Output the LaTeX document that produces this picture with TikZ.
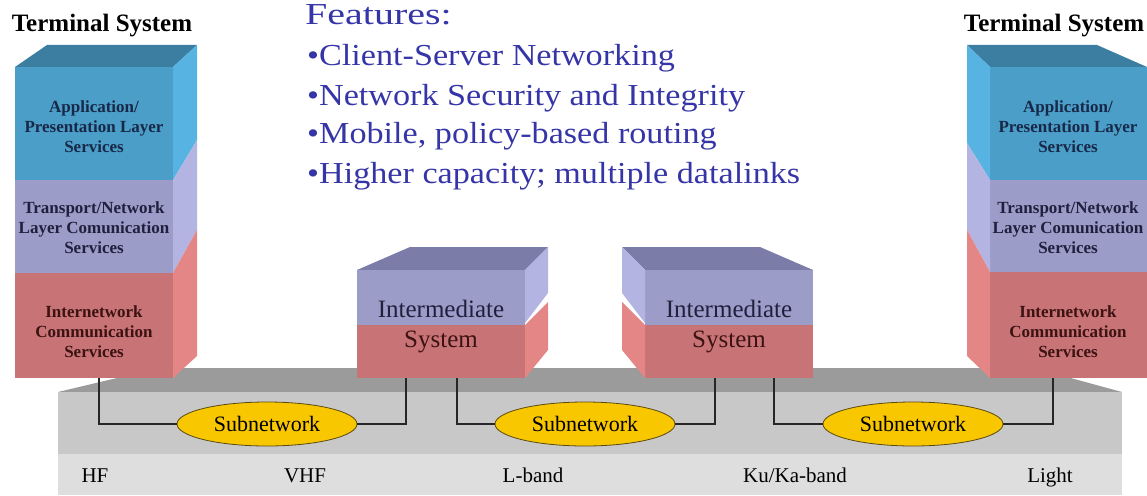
\documentclass[tikz,border=0pt]{standalone}
\usepackage{fontspec}
\setmainfont{Liberation Serif}
\newfontfamily\featfont[FakeStretch=1.12]{Liberation Serif}
\usepackage{graphicx}
\usetikzlibrary{shapes.geometric}

\definecolor{blueF}{HTML}{4B9EC8}
\definecolor{blueS}{HTML}{57B3E2}
\definecolor{blueT}{HTML}{3C7EA2}
\definecolor{lavF}{HTML}{9B9CC7}
\definecolor{lavS}{HTML}{B3B4E2}
\definecolor{lavT}{HTML}{7B7CA7}
\definecolor{redF}{HTML}{C87476}
\definecolor{redS}{HTML}{E48686}
\definecolor{platT}{HTML}{9B9B9B}
\definecolor{platF}{HTML}{C8C8C8}
\definecolor{bandC}{HTML}{DEDEDE}
\definecolor{subnetY}{HTML}{F8C700}
\definecolor{subnetD}{HTML}{5A4A10}
\definecolor{featblue}{HTML}{3535A8}
\definecolor{blueTx}{HTML}{182848}
\definecolor{lavTx}{HTML}{20203E}
\definecolor{redTx}{HTML}{3C1212}

\tikzset{
  layertext/.style={font=\bfseries\fontsize{17}{20}\selectfont, align=center, inner sep=0pt},
  systext/.style={anchor=base, font=\fontsize{25}{28}\selectfont, inner sep=0pt},
  bandtext/.style={anchor=base, font=\fontsize{21}{24}\selectfont, inner sep=0pt},
  featline/.style={anchor=base west, text=featblue, font=\featfont\fontsize{30.5}{36}\selectfont, inner sep=0pt},
  title/.style={anchor=base, font=\bfseries\fontsize{25}{28}\selectfont, inner sep=0pt},
  subnet/.style={ellipse, draw=subnetD, line width=0.8pt, fill=subnetY, minimum width=180pt, minimum height=44pt, inner sep=0pt, font=\fontsize{22}{24}\selectfont},
  wire/.style={line width=1.2pt, draw=black!85},
}

\begin{document}
\begin{tikzpicture}[x=1pt,y=-1pt]
	\useasboundingbox (0,0) rectangle (1147,495);
	
	% platform
	\fill[platT] (58,392) -- (159,368) -- (1034,368) -- (1122,392) -- cycle;
	\fill[platF] (58,392) rectangle (1122,454);
	\fill[bandC] (58,454) rectangle (1122,495);
	
	% left terminal system
	\fill[blueT] (15,67) -- (47,45) -- (197,45) -- (173,67) -- cycle;
	\fill[blueF] (15,67) rectangle (173,180);
	\fill[blueS] (173,67) -- (197,45) -- (197,140) -- (173,180) -- cycle;
	\fill[lavF] (15,180) rectangle (173,273);
	\fill[lavS] (173,180) -- (197,140) -- (197,230) -- (173,273) -- cycle;
	\fill[redF] (15,273) rectangle (173,378);
	\fill[redS] (173,273) -- (197,230) -- (197,356) -- (173,378) -- cycle;
	
	% right terminal system
	\fill[blueT] (990,67) -- (967,45) -- (1097,45) -- (1147,67) -- cycle;
	\fill[blueF] (990,67) rectangle (1147,180);
	\fill[blueS] (990,67) -- (967,45) -- (967,143) -- (990,180) -- cycle;
	\fill[lavF] (990,180) rectangle (1147,272);
	\fill[lavS] (990,180) -- (967,143) -- (967,230) -- (990,272) -- cycle;
	\fill[redF] (990,272) rectangle (1147,378);
	\fill[redS] (990,272) -- (967,230) -- (967,356) -- (990,378) -- cycle;
	
	% intermediate systems
	\fill[lavT] (357,270) -- (410,247) -- (548,247) -- (525,270) -- cycle;
	\fill[lavF] (357,270) rectangle (525,325);
	\fill[lavS] (525,270) -- (548,247) -- (548,293) -- (525,323) -- cycle;
	\fill[redF] (357,325) rectangle (525,378);
	\fill[redS] (525,325) -- (548,302) -- (548,350) -- (525,378) -- cycle;
	
	\fill[lavT] (645,270) -- (622,247) -- (760,247) -- (813,270) -- cycle;
	\fill[lavF] (645,270) rectangle (813,325);
	\fill[lavS] (645,270) -- (622,247) -- (622,293) -- (645,323) -- cycle;
	\fill[redF] (645,325) rectangle (813,378);
	\fill[redS] (645,325) -- (622,302) -- (622,350) -- (645,378) -- cycle;
	
	% titles and layer texts
	\node[title] (termL) at (102,32) {Terminal System};
	\node[title] (termR) at (1054,32) {Terminal System};
	
	\node[layertext, text=blueTx] (appL) at (94,127) {Application/\\Presentation Layer\\Services};
	\node[layertext, text=lavTx] (netL) at (94,228) {Transport/Network\\Layer Comunication\\Services};
	\node[layertext, text=redTx] (inetL) at (94,332) {Internetwork\\Communication\\Services};
	
	\node[layertext, text=blueTx] (appR) at (1068,127) {Application/\\Presentation Layer\\Services};
	\node[layertext, text=lavTx] (netR) at (1068,228) {Transport/Network\\Layer Comunication\\Services};
	\node[layertext, text=redTx] (inetR) at (1068,332) {Internetwork\\Communication\\Services};
	
	\node[systext, text=lavTx] (imA) at (441,317) {Intermediate};
	\node[systext, text=redTx] (sysA) at (441,347) {System};
	\node[systext, text=lavTx] (imB) at (729,317) {Intermediate};
	\node[systext, text=redTx] (sysB) at (729,347) {System};
	
	% features
	\node[featline] (feat) at (305,25) {\scalebox{1.17}[1]{Features:}};
	\node[featline] (featA) at (307,65) {•Client-Server Networking};
	\node[featline] (featB) at (307,105) {•Network Security and Integrity};
	\node[featline] (featC) at (307,143) {•Mobile, policy-based routing};
	\node[featline] (featD) at (307,183) {•Higher capacity; multiple datalinks};
	
	% subnetworks
	\coordinate (tL) at (99,378);
	\coordinate (iA1) at (406,378);
	\coordinate (iA2) at (457,378);
	\coordinate (iB1) at (715,378);
	\coordinate (iB2) at (774,378);
	\coordinate (tR) at (1053,378);
	
	\node[subnet] (snA) at (267,424) {Subnetwork};
	\node[subnet] (snB) at (585,424) {Subnetwork};
	\node[subnet] (snC) at (913,424) {Subnetwork};
	
	\draw[wire] (tL) |- (snA);
	\draw[wire] (snA) -| (iA1);
	\draw[wire] (iA2) |- (snB);
	\draw[wire] (snB) -| (iB1);
	\draw[wire] (iB2) |- (snC);
	\draw[wire] (snC) -| (tR);
	
	% frequency bands
	\node[bandtext] (hf) at (95,482) {HF};
	\node[bandtext] (vhf) at (305,482) {VHF};
	\node[bandtext] (lband) at (533,482) {L-band};
	\node[bandtext] (kuka) at (795,482) {Ku/Ka-band};
	\node[bandtext] (light) at (1050,482) {Light};
	
\end{tikzpicture}
\end{document}
